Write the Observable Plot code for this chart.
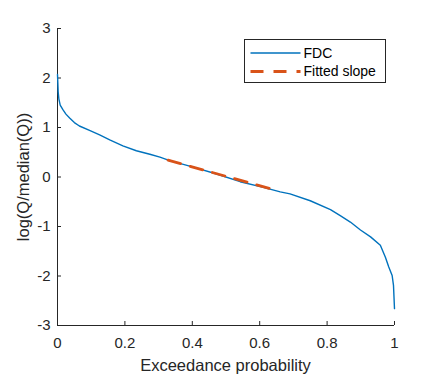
<!DOCTYPE html>
<html>
<head>
<meta charset="utf-8">
<script src="https://cdn.jsdelivr.net/npm/d3@7"></script>
<script src="https://cdn.jsdelivr.net/npm/@observablehq/plot@0.6"></script>
<style>
  body { margin: 0; background: #fff; }
  #wrap { position: relative; width: 437px; height: 375px; font-family: "Liberation Sans", Arial, sans-serif; }
  #overlay { position: absolute; left: 0; top: 0; }
</style>
</head>
<body>
<div id="wrap"></div>
<script>
// Flow duration curve (exceedance probability vs log(Q/median(Q)))
const exceedance = [0, 0.001, 0.002, 0.004, 0.008, 0.016, 0.025, 0.036, 0.05, 0.065, 0.095, 0.125, 0.155, 0.194, 0.234, 0.274, 0.304, 0.333, 0.403, 0.472, 0.542, 0.611, 0.661, 0.69, 0.75, 0.81, 0.839, 0.869, 0.899, 0.929, 0.958, 0.973, 0.983, 0.993, 0.997, 1.0];
const logQ =       [2.07, 1.9, 1.72, 1.58, 1.45, 1.36, 1.27, 1.19, 1.1, 1.03, 0.94, 0.85, 0.75, 0.63, 0.53, 0.46, 0.40, 0.33, 0.20, 0.06, -0.095, -0.21, -0.30, -0.34, -0.48, -0.66, -0.78, -0.91, -1.07, -1.21, -1.38, -1.62, -1.82, -1.99, -2.19, -2.66];

// Fitted slope segment
const fitX = [0.328, 0.631];
const fitY = [0.34, -0.235];

// Tick labels
const xTicks = [0, 0.2, 0.4, 0.6, 0.8, 1];
const yTicks = [-3, -2, -1, 0, 1, 2, 3];

const xLabel = "Exceedance probability";
const yLabel = "log(Q/median(Q))";
const legendItems = ["FDC", "Fitted slope"];

const fdc = exceedance.map((x, i) => ({x, y: logQ[i]}));
const fit = fitX.map((x, i) => ({x, y: fitY[i]}));

const axisColor = "#262626";
const font = "'Liberation Sans', Arial, sans-serif";

const plot = Plot.plot({
  width: 437,
  height: 375,
  marginLeft: 57,
  marginRight: 43,
  marginTop: 28,
  marginBottom: 50,
  style: {fontFamily: font, fontSize: "15px", color: axisColor, background: "#fff"},
  x: {domain: [0, 1]},
  y: {domain: [-3, 3]},
  marks: [
    Plot.ruleY([-3], {stroke: axisColor, strokeWidth: 1}),
    Plot.ruleX([0], {stroke: axisColor, strokeWidth: 1}),
    Plot.axisX(xTicks, {tickSize: -4, tickPadding: 16, stroke: axisColor, fill: axisColor, fontSize: 15,
      tickFormat: d => String(d), label: null}),
    Plot.axisY(yTicks, {tickSize: -4, tickPadding: 11, stroke: axisColor, fill: axisColor, fontSize: 15,
      tickFormat: d => d < 0 ? "-" + Math.abs(d) : String(d), label: null}),
    Plot.line(fdc, {x: "x", y: "y", stroke: "#0072BD", strokeWidth: 1.4}),
    Plot.line(fit, {x: "x", y: "y", stroke: "#D95319", strokeWidth: 2.8, strokeDasharray: "13,10"})
  ]
});

const wrap = document.getElementById("wrap");
wrap.appendChild(plot);

// Overlay: axis titles + MATLAB-style legend
const ov = d3.select(wrap).append("svg")
  .attr("id", "overlay")
  .attr("width", 437).attr("height", 375)
  .style("pointer-events", "none");

ov.append("text").attr("x", 225.5).attr("y", 365).attr("dy", "0.35em")
  .attr("text-anchor", "middle").attr("fill", axisColor)
  .style("font-family", font).style("font-size", "16.5px").text(xLabel);
ov.append("text").attr("transform", "translate(23,177) rotate(-90)").attr("dy", "0.35em")
  .attr("text-anchor", "middle").attr("fill", axisColor)
  .style("font-family", font).style("font-size", "16.5px").text(yLabel);

const g = ov.append("g").attr("transform", "translate(244.5,39.5)");
g.append("rect").attr("width", 141).attr("height", 43)
  .attr("fill", "#fff").attr("stroke", axisColor).attr("stroke-width", 1);
const styles = [
  {stroke: "#0072BD", width: 1.4, dash: null},
  {stroke: "#D95319", width: 2.8, dash: "13,10"}
];
legendItems.forEach((name, i) => {
  const yy = 13.5 + i * 18.5;
  g.append("line").attr("x1", 6).attr("x2", 56).attr("y1", yy).attr("y2", yy)
    .attr("stroke", styles[i].stroke).attr("stroke-width", styles[i].width)
    .attr("stroke-dasharray", styles[i].dash);
  g.append("text").attr("x", 59).attr("y", yy).attr("dy", "0.35em")
    .attr("fill", "#000").style("font-family", font)
    .style("font-size", "14px").text(name);
});
</script>
</body>
</html>
